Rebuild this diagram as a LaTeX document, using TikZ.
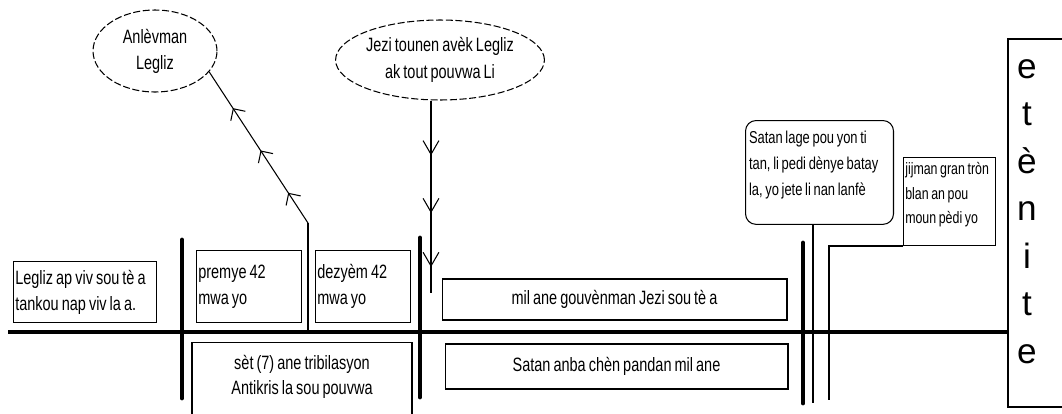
\documentclass[tikz,border=0pt]{standalone}
\usepackage{fontspec}
\setmainfont{Liberation Sans}[FakeStretch=0.75, WordSpace=0.75]
\newfontfamily\etfont{Liberation Sans}
\usetikzlibrary{shapes.geometric, arrows.meta, decorations.markings}

\tikzset{
  textbox/.style={draw, line width=0.6pt, anchor=north west, align=flush left, inner xsep=1pt},
  callout/.style={textbox, font=\fontsize{9.8}{14.7}\selectfont},
  bubble/.style={draw, ellipse, line width=0.6pt, dash pattern=on 4pt off 1.5pt, align=flush center, inner sep=0pt},
  era/.style={line width=2.8pt, line cap=round},
  upmarks/.style={postaction={decorate}, decoration={markings,
      mark=at position 0.2 with {\arrow{Straight Barb[angle=90:7pt]}},
      mark=at position 0.48 with {\arrow{Straight Barb[angle=90:7pt]}},
      mark=at position 0.76 with {\arrow{Straight Barb[angle=90:7pt]}}}},
  downmarks/.style={postaction={decorate}, decoration={markings,
      mark=at position 0.285 with {\arrow{Straight Barb[angle=60:9pt]}},
      mark=at position 0.585 with {\arrow{Straight Barb[angle=60:9pt]}},
      mark=at position 0.865 with {\arrow{Straight Barb[angle=60:9pt]}}}}
}

\begin{document}
\begin{tikzpicture}[x=0.02cm, y=-0.02cm, font=\fontsize{11}{14.7}\selectfont]
    \useasboundingbox (0,0) rectangle (1062,413);

    \node[textbox, minimum width=2.86cm, minimum height=1.22cm, text width=2.86cm-2pt] (legliz) at (13,261) {Legliz ap viv sou tè a\\tankou nap viv la a.};
    \node[textbox, minimum width=2.1cm, minimum height=1.44cm, text width=2.1cm-2pt] (premye) at (196,250) {premye 42\\mwa yo};
    \node[textbox, minimum width=1.9cm, minimum height=1.44cm, text width=1.9cm-2pt] (dezyem) at (315,250) {dezyèm 42\\mwa yo};
    \node[textbox, anchor=north, align=flush center, inner ysep=7pt, line width=0.7pt, minimum width=4.4cm, text width=4.4cm-2pt, text depth=3cm] (tribilasyon) at (302,342) {sèt (7) ane tribilasyon\\Antikris la sou pouvwa};

    \node[draw, line width=0.6pt, minimum width=6.9cm, minimum height=0.82cm] (milane) at (614.5,299.5) {mil ane gouvènman Jezi sou tè a};
    \node[draw, line width=0.6pt, minimum width=6.86cm, minimum height=0.9cm] (chen) at (616.5,366.5) {Satan anba chèn pandan mil ane};

    \node[callout, rounded corners=6pt, inner xsep=2pt, inner ysep=6pt, text width=2.96cm-4pt, text depth=40pt] (lage) at (745,120) {Satan lage pou yon ti\\tan, li pedi dènye batay\\la, yo jete li nan lanfè};
    \node[callout, inner ysep=3pt, text width=1.84cm-2pt, text depth=37pt, font=\fontsize{9.4}{13.9}\selectfont] (jijman) at (903,157) {jijman gran tròn\\blan an pou\\moun pèdi yo};

    \node[bubble, minimum width=2.48cm, minimum height=1.64cm] (anlevman) at (155,51) {Anlèvman\\Legliz};
    \node[bubble, minimum width=4cm, minimum height=1.6cm, font=\fontsize{11}{15.5}\selectfont] (jezi) at (440,60) {Jezi tounen avèk Legliz\\ak tout pouvwa Li};

    \node[draw, line width=1.1pt, anchor=north west, minimum width=2cm, minimum height=7.36cm] (eternite) at (1007,38) {};
    \foreach \c [count=\i] in {e,t,è,n,i,t,e}
        \node[font=\etfont\fontsize{20}{20}\selectfont, anchor=base] (let\i) at (1027,{78+47.5*(\i-1)}) {\c};

    \coordinate (start) at (8,332);
    \draw[line width=2.6pt] (start) -- (start -| eternite.west);
    \foreach \x/\t/\b in {182/240/398, 420/238/397, 803/243/403}
        \draw[era] (\x,\t) -- (\x,\b);

    \coordinate (rapture) at (308,223);
    \draw[line width=1.1pt] (rapture |- start) -- (rapture);
    \draw[line width=0.6pt, upmarks] (rapture) -- (anlevman.-21);
    \coordinate (jzend) at (431,293);
    \draw[line width=0.6pt, downmarks] (jezi.south -| jzend) -- (jzend);
    \coordinate (lgend) at (813,403);
    \draw[line width=1pt] (lage.south -| lgend) -- (lgend);
    \coordinate (jjend) at (829,400);
    \draw[line width=1.2pt] (jijman.south west) -| (jjend);
\end{tikzpicture}
\end{document}
